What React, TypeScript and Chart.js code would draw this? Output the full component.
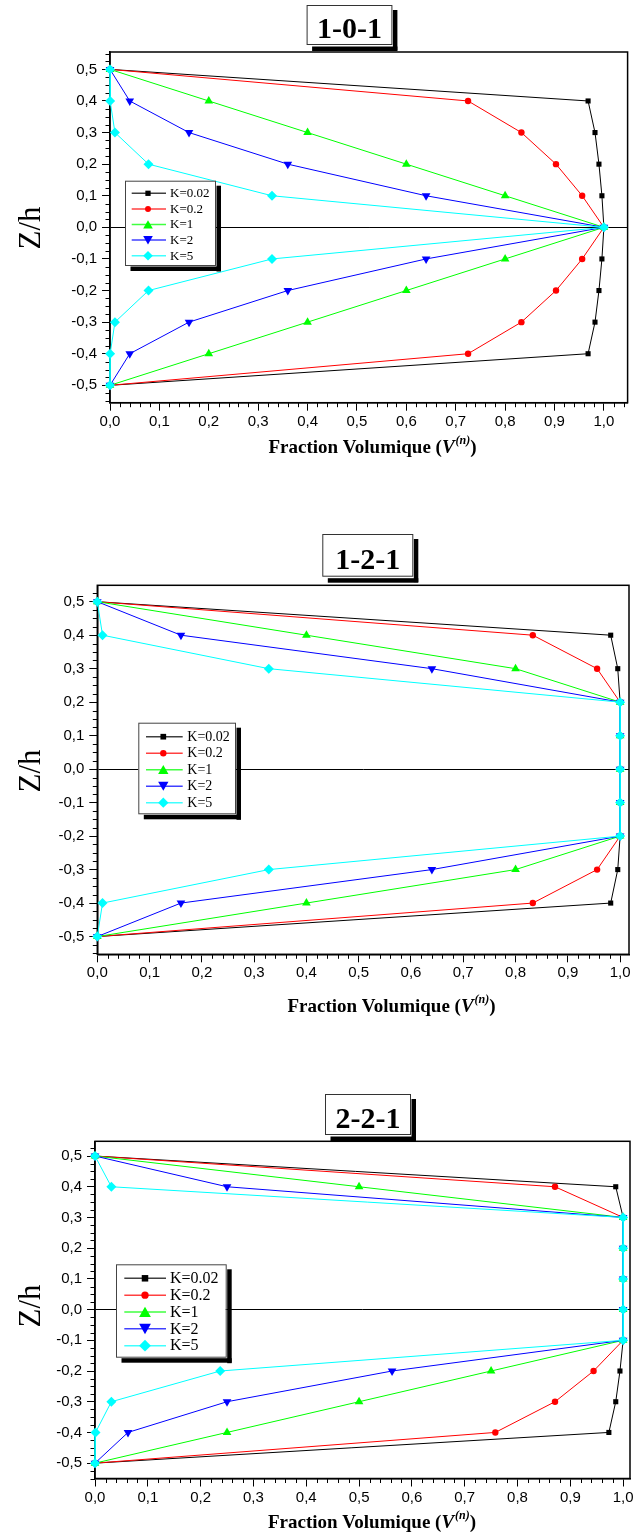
import React, { useEffect, useRef } from 'react';
import { Chart, registerables } from 'chart.js';

Chart.register(...registerables);

// ---------- DATA ----------
const zLevels = [0.5, 0.4, 0.3, 0.2, 0.1, 0, -0.1, -0.2, -0.3, -0.4, -0.5];
const kLabels = ['K=0.02', 'K=0.2', 'K=1', 'K=2', 'K=5'];
const yTickStep = 0.1;
const xTickStep = 0.1;

// Panel "1-0-1"
const p101_k002 = [0, 0.968, 0.982, 0.99, 0.996, 1, 0.996, 0.99, 0.982, 0.968, 0];
const p101_k02 = [0, 0.725, 0.833, 0.903, 0.956, 1, 0.956, 0.903, 0.833, 0.725, 0];
const p101_k1 = [0, 0.2, 0.4, 0.6, 0.8, 1, 0.8, 0.6, 0.4, 0.2, 0];
const p101_k2 = [0, 0.04, 0.16, 0.36, 0.64, 1, 0.64, 0.36, 0.16, 0.04, 0];
const p101_k5 = [0, 0.0003, 0.01, 0.078, 0.328, 1, 0.328, 0.078, 0.01, 0.0003, 0];

// Panel "1-2-1"
const p121_k002 = [0, 0.982, 0.9955, 1, 1, 1, 1, 1, 0.9955, 0.982, 0];
const p121_k02 = [0, 0.833, 0.956, 1, 1, 1, 1, 1, 0.956, 0.833, 0];
const p121_k1 = [0, 0.4, 0.8, 1, 1, 1, 1, 1, 0.8, 0.4, 0];
const p121_k2 = [0, 0.16, 0.64, 1, 1, 1, 1, 1, 0.64, 0.16, 0];
const p121_k5 = [0, 0.01, 0.328, 1, 1, 1, 1, 1, 0.328, 0.01, 0];

// Panel "2-2-1"
const p221_k002 = [0, 0.986, 1, 1, 1, 1, 1, 0.994, 0.986, 0.973, 0];
const p221_k02 = [0, 0.871, 1, 1, 1, 1, 1, 0.944, 0.871, 0.758, 0];
const p221_k1 = [0, 0.5, 1, 1, 1, 1, 1, 0.75, 0.5, 0.25, 0];
const p221_k2 = [0, 0.25, 1, 1, 1, 1, 1, 0.5625, 0.25, 0.0625, 0];
const p221_k5 = [0, 0.031, 1, 1, 1, 1, 1, 0.237, 0.031, 0.001, 0];

// ---------- STYLES ----------
const seriesColors = ['#000000', '#ff0000', '#00ff00', '#0000ff', '#00ffff'];
const seriesStyles = ['rect', 'circle', 'tri', 'itri', 'diamond'];
const SERIF = '"Liberation Serif", "Times New Roman", serif';
const SANS = '"Liberation Sans", Arial, sans-serif';

type PanelCfg = {
  name: string;
  series: number[][];
  canvasTop: number;
  canvasH: number;
  left: number;
  right: number;
  top: number;
  bottom: number;
  xmax: number;
  ymin: number;
  ymax: number;
  titleBox: [number, number, number, number];
  xTitle: [number, number];
  yTitle: [number, number];
  legend: {
    box: [number, number, number, number];
    row0: number;
    dy: number;
    l0: number;
    l1: number;
    mx: number;
    tx: number;
    font: number;
  };
};

const panels: PanelCfg[] = [
  {
    name: '1-0-1',
    series: [p101_k002, p101_k02, p101_k1, p101_k2, p101_k5],
    canvasTop: 0, canvasH: 480,
    left: 110, right: 627.6, top: 52, bottom: 402.7,
    xmax: 1.048, ymin: -0.555, ymax: 0.555,
    titleBox: [306.6, 5, 84.8, 39],
    xTitle: [372, 448],
    yTitle: [32, 228],
    legend: { box: [125, 180.7, 215, 265], row0: 193.3, dy: 15.6, l0: 131.7, l1: 166, mx: 148, tx: 170, font: 13 },
  },
  {
    name: '1-2-1',
    series: [p121_k002, p121_k02, p121_k1, p121_k2, p121_k5],
    canvasTop: 500, canvasH: 530,
    left: 97.3, right: 629, top: 585.3, bottom: 954.3,
    xmax: 1.017, ymin: -0.553, ymax: 0.549,
    titleBox: [322.3, 534, 90, 41.7],
    xTitle: [391, 1007],
    yTitle: [32, 771],
    legend: { box: [138.3, 722.7, 235, 813.3], row0: 736.7, dy: 16.5, l0: 146, l1: 182.7, mx: 163.3, tx: 187.3, font: 14 },
  },
  {
    name: '2-2-1',
    series: [p221_k002, p221_k02, p221_k1, p221_k2, p221_k5],
    canvasTop: 1060, canvasH: 478,
    left: 95, right: 630, top: 1141.3, bottom: 1478.5,
    xmax: 1.013, ymin: -0.55, ymax: 0.548,
    titleBox: [325, 1094, 85, 40],
    xTitle: [371.5, 1523],
    yTitle: [32, 1306],
    legend: { box: [116, 1264.3, 225.7, 1356.7], row0: 1278.3, dy: 16.85, l0: 124.3, l1: 166, mx: 145, tx: 170, font: 16 },
  },
];

function fmt(v: number) {
  if (Math.abs(v) < 1e-9) return '0,0';
  return Number(v).toFixed(1).replace('.', ',');
}

function drawMarker(ctx: CanvasRenderingContext2D, style: string, x: number, y: number, r: number, color: string) {
  ctx.fillStyle = color;
  ctx.beginPath();
  if (style === 'rect') {
    const s = r * 0.55;
    ctx.rect(x - s, y - s, 2 * s, 2 * s);
  } else if (style === 'circle') {
    ctx.arc(x, y, r * 0.62, 0, Math.PI * 2);
  } else if (style === 'tri') {
    ctx.moveTo(x, y - r * 0.9);
    ctx.lineTo(x + r, y + r * 0.85);
    ctx.lineTo(x - r, y + r * 0.85);
    ctx.closePath();
  } else if (style === 'itri') {
    ctx.moveTo(x, y + r * 0.9);
    ctx.lineTo(x + r, y - r * 0.85);
    ctx.lineTo(x - r, y - r * 0.85);
    ctx.closePath();
  } else {
    ctx.moveTo(x, y - r);
    ctx.lineTo(x + r, y);
    ctx.lineTo(x, y + r);
    ctx.lineTo(x - r, y);
    ctx.closePath();
  }
  ctx.fill();
}

function makeDecor(cfg: PanelCfg) {
  const oy = cfg.canvasTop;
  return {
    id: 'decor',
    beforeDatasetsDraw(chart: any) {
      const { ctx, chartArea: a } = chart;
      const xs = chart.scales.x;
      const ys = chart.scales.y;
      ctx.save();
      ctx.strokeStyle = '#000';
      ctx.lineWidth = 1;
      ctx.beginPath();
      for (let i = Math.ceil(ys.min / 0.025); i * 0.025 <= ys.max + 1e-9; i++) {
        if (i % 4 === 0) continue;
        const py = Math.round(ys.getPixelForValue(i * 0.025)) + 0.5;
        ctx.moveTo(a.left - 4.5, py);
        ctx.lineTo(a.left, py);
      }
      for (let i = Math.ceil(xs.min / 0.02); i * 0.02 <= xs.max + 1e-9; i++) {
        if (i % 5 === 0) continue;
        const px = Math.round(xs.getPixelForValue(i * 0.02)) + 0.5;
        ctx.moveTo(px, a.bottom);
        ctx.lineTo(px, a.bottom + 4.5);
      }
      ctx.stroke();
      ctx.lineWidth = 1.5;
      ctx.strokeRect(a.left, a.top, a.right - a.left, a.bottom - a.top);
      ctx.restore();
    },
    afterDraw(chart: any) {
      const ctx: CanvasRenderingContext2D = chart.ctx;
      ctx.save();
      // ----- title box -----
      const [bx, byAbs, bw, bh] = cfg.titleBox;
      const by = byAbs - oy;
      ctx.fillStyle = '#000';
      ctx.fillRect(bx + bw + 1.5, by + 5, 4.5, bh + 1.5);
      ctx.fillRect(bx + 5.5, by + bh + 2.5, bw + 0.5, 4.5);
      ctx.fillStyle = '#fff';
      ctx.fillRect(bx, by, bw, bh);
      ctx.strokeStyle = '#333';
      ctx.lineWidth = 1;
      ctx.strokeRect(bx + 0.5, by + 0.5, bw, bh);
      ctx.fillStyle = '#000';
      ctx.font = `bold 30px ${SERIF}`;
      ctx.textAlign = 'center';
      ctx.textBaseline = 'alphabetic';
      ctx.fillText(cfg.name, bx + bw / 2 + 0.5, by + bh * 0.84);

      // ----- y axis title -----
      ctx.save();
      ctx.translate(cfg.yTitle[0], cfg.yTitle[1] - oy);
      ctx.rotate(-Math.PI / 2);
      ctx.font = `31px ${SERIF}`;
      ctx.textAlign = 'center';
      ctx.textBaseline = 'middle';
      ctx.fillText('Z/h', 0, 0);
      ctx.restore();

      // ----- x axis title -----
      const f1 = `bold 19px ${SERIF}`;
      const f2 = `italic bold 19px ${SERIF}`;
      const f3 = `italic bold 12px ${SERIF}`;
      const parts: [string, string, number][] = [
        ['Fraction Volumique (', f1, 0],
        ['V', f2, 0],
        ['(n)', f3, -7],
        [')', f1, 0],
      ];
      let total = 0;
      const widths = parts.map(([t, f]) => {
        ctx.font = f;
        const w = ctx.measureText(t).width;
        total += w;
        return w;
      });
      let cx = cfg.xTitle[0] - total / 2;
      const cy = cfg.xTitle[1] - oy;
      ctx.textAlign = 'left';
      ctx.textBaseline = 'middle';
      parts.forEach(([t, f, dy], i) => {
        ctx.font = f;
        ctx.fillText(t, cx, cy + dy);
        cx += widths[i] + (i === 1 ? 1 : 0);
      });

      // ----- legend -----
      const L = cfg.legend;
      const [lx0, ly0a, lx1, ly1a] = L.box;
      const ly0 = ly0a - oy;
      const ly1 = ly1a - oy;
      ctx.fillStyle = '#000';
      ctx.fillRect(lx1 + 1.5, ly0 + 5, 4.5, ly1 - ly0 + 1.5);
      ctx.fillRect(lx0 + 5.5, ly1 + 1.5, lx1 - lx0 + 0.5, 4.5);
      ctx.fillStyle = '#fff';
      ctx.fillRect(lx0, ly0, lx1 - lx0, ly1 - ly0);
      ctx.strokeStyle = '#444';
      ctx.lineWidth = 1;
      ctx.strokeRect(lx0 + 0.5, ly0 + 0.5, lx1 - lx0, ly1 - ly0);
      const sc = L.font / 13;
      kLabels.forEach((lab, i) => {
        const ry = L.row0 - oy + i * L.dy;
        ctx.strokeStyle = seriesColors[i];
        ctx.globalAlpha = 0.75;
        ctx.lineWidth = 1.5;
        ctx.beginPath();
        ctx.moveTo(L.l0, ry);
        ctx.lineTo(L.l1, ry);
        ctx.stroke();
        ctx.globalAlpha = 1;
        drawMarker(ctx, seriesStyles[i], L.mx, ry, 4.8 * sc, seriesColors[i]);
        ctx.fillStyle = '#000';
        ctx.font = `${L.font}px ${SERIF}`;
        ctx.textAlign = 'left';
        ctx.textBaseline = 'middle';
        ctx.fillText(lab, L.tx, ry + 0.5);
      });
      ctx.restore();
    },
  };
}

const chartPointStyles = ['rect', 'circle', 'triangle', 'triangle', 'rectRot'];
const chartPointRadius = [3.6, 3.2, 5, 5, 5];
const chartPointRotation = [0, 0, 0, 180, 0];

function Panel({ cfg }: { cfg: PanelCfg }) {
  const ref = useRef<HTMLCanvasElement | null>(null);
  useEffect(() => {
    if (!ref.current) return;
    const xH = 40;
    const chart = new Chart(ref.current, {
      type: 'line',
      data: {
        datasets: cfg.series.map((vals, i) => ({
          label: kLabels[i],
          data: zLevels.map((z, j) => ({ x: vals[j], y: z })),
          borderColor: seriesColors[i],
          backgroundColor: seriesColors[i],
          borderWidth: 1,
          pointStyle: chartPointStyles[i] as any,
          pointRadius: chartPointRadius[i],
          pointRotation: chartPointRotation[i],
          pointBorderWidth: 0,
          pointBackgroundColor: seriesColors[i],
          tension: 0,
          clip: false as any,
          order: 5 - i,
        })),
      },
      options: {
        animation: false,
        responsive: false,
        events: [],
        layout: {
          padding: {
            left: 0,
            top: cfg.top - cfg.canvasTop,
            right: 636 - cfg.right,
            bottom: cfg.canvasH - (cfg.bottom - cfg.canvasTop) - xH,
          },
        },
        plugins: { legend: { display: false }, tooltip: { enabled: false }, title: { display: false } },
        scales: {
          x: {
            type: 'linear',
            min: 0,
            max: cfg.xmax,
            border: { display: true, color: '#000', width: 1.5 },
            grid: { drawOnChartArea: false, tickLength: 8, tickColor: '#000', tickWidth: 1 },
            ticks: {
              stepSize: xTickStep,
              includeBounds: false,
              autoSkip: false,
              maxRotation: 0,
              padding: 2,
              color: '#000',
              font: { family: SANS, size: 15 },
              callback: (v: any) => fmt(Number(v)),
            },
            afterFit: (s: any) => {
              s.height = xH;
              s.paddingLeft = 0;
              s.paddingRight = 0;
            },
          },
          y: {
            type: 'linear',
            min: cfg.ymin,
            max: cfg.ymax,
            border: { display: true, color: '#000', width: 1.5 },
            grid: {
              drawOnChartArea: true,
              color: (c: any) => (c.tick && Math.abs(c.tick.value) < 1e-9 ? '#000' : 'rgba(0,0,0,0)'),
              lineWidth: 1,
              tickLength: 8,
              tickColor: '#000',
              tickWidth: 1,
            },
            ticks: {
              stepSize: yTickStep,
              includeBounds: false,
              autoSkip: false,
              padding: 5,
              color: '#000',
              font: { family: SANS, size: 15 },
              callback: (v: any) => fmt(Number(v)),
            },
            afterFit: (s: any) => {
              s.width = cfg.left;
              s.paddingTop = 0;
              s.paddingBottom = 0;
            },
          },
        },
      },
      plugins: [makeDecor(cfg)],
    } as any);
    return () => chart.destroy();
  }, [cfg]);
  return (
    <canvas
      ref={ref}
      width={636}
      height={cfg.canvasH}
      style={{ position: 'absolute', left: 0, top: cfg.canvasTop, width: 636, height: cfg.canvasH, display: 'block' }}
    />
  );
}

export default function App() {
  return (
    <div style={{ position: 'absolute', left: 0, top: 0, width: 636, height: 1538, background: '#fff', overflow: 'hidden' }}>
      {panels.map((p) => (
        <Panel key={p.name} cfg={p} />
      ))}
    </div>
  );
}
